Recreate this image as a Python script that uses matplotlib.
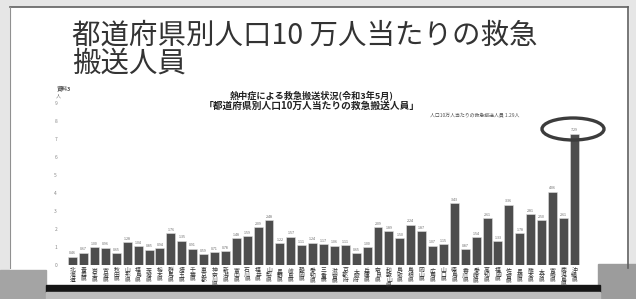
import matplotlib
matplotlib.use("Agg")
import matplotlib.pyplot as plt
from matplotlib.patches import Rectangle, Ellipse

plt.rcParams['font.family'] = ['Noto Sans CJK JP', 'DejaVu Sans']

# 都道府県別 人口10万人当たりの救急搬送人員 (令和3年5月)
prefs = ["北海道", "青森県", "岩手県", "宮城県", "秋田県", "山形県", "福島県",
         "茨城県", "栃木県", "群馬県", "埼玉県", "千葉県", "東京都", "神奈川県",
         "新潟県", "富山県", "石川県", "福井県", "山梨県", "長野県", "岐阜県",
         "静岡県", "愛知県", "三重県", "滋賀県", "京都府", "大阪府", "兵庫県",
         "奈良県", "和歌山県", "鳥取県", "島根県", "岡山県", "広島県", "山口県",
         "徳島県", "香川県", "愛媛県", "高知県", "福岡県", "佐賀県", "長崎県",
         "熊本県", "大分県", "宮崎県", "鹿児島県", "沖縄県"]
values = [0.46, 0.67, 1.00, 0.96, 0.65, 1.28, 1.04,
          0.85, 0.94, 1.76, 1.35, 0.91, 0.59, 0.71,
          0.78, 1.48, 1.59, 2.09, 2.48, 1.22, 1.57,
          1.11, 1.24, 1.17, 1.06, 1.11, 0.65, 1.00,
          2.09, 1.89, 1.50, 2.24, 1.87, 1.07, 1.15,
          3.43, 0.87, 1.54, 2.61, 1.33, 3.36, 1.78,
          2.81, 2.50, 4.06, 2.61, 7.29]
yticks = list(range(0, 10))

W, H = 636, 299
fig = plt.figure(figsize=(W / 100, H / 100), dpi=100)
fig.patch.set_facecolor("white")


def fx(x):
    return x / W


def fy(y):
    return 1 - y / H


def box(x0, y0, x1, y1, color):
    fig.patches.append(Rectangle((fx(x0), fy(y1)), fx(x1 - x0), (y1 - y0) / H,
                                 transform=fig.transFigure, color=color, zorder=-10))


# スライドの枠と下部の影
box(0, 0, 636, 299, "#e6e6e6")
box(10, 7, 628, 285, "white")
box(0, 270, 46, 299, "#a4a4a4")
box(598, 264, 636, 299, "#9c9c9c")
box(46, 285, 600, 292, "#151515")
box(46, 292, 600, 299, "#bdbdbd")
for xs, ys, c, w in [([10, 628], [7, 7], "#606060", 1.2),
                     ([628, 628], [7, 268], "#606060", 1.2),
                     ([10, 10], [7, 268], "#909090", 0.8)]:
    ln = plt.Line2D([fx(v) for v in xs], [fy(v) for v in ys], transform=fig.transFigure,
                    color=c, lw=w, zorder=-9)
    fig.lines.append(ln)

# タイトル
fig.text(fx(72), fy(36), "都道府県別人口10 万人当たりの救急", fontsize=20.5,
         color="#333333", va="center", ha="left")
fig.text(fx(72), fy(64), "搬送人員", fontsize=20.5, color="#333333", va="center", ha="left")

fig.text(fx(57), fy(88), "資料3", fontsize=4, color="#555555", va="center", fontweight="bold")
fig.text(fx(312), fy(95.5), "熱中症による救急搬送状況(令和3年5月)", fontsize=6.6,
         color="#222222", ha="center", va="center", fontweight="bold")
fig.text(fx(312), fy(106), "「都道府県別人口10万人当たりの救急搬送人員」", fontsize=7,
         color="#222222", ha="center", va="center", fontweight="bold")
fig.text(fx(475), fy(115), "人口10万人当たりの救急搬送人員 1.29人", fontsize=3.5,
         color="#555555", ha="center", va="center")
fig.text(fx(58), fy(96), "人", fontsize=3.6, color="#777777", ha="center", va="center")

# グラフ本体
ax = fig.add_axes([fx(64), fy(265), fx(583 - 64), (265 - 103) / H])
x = list(range(len(prefs)))
ax.bar(x, values, width=0.82, color="#4d4d4d", edgecolor="#e0e0e0", linewidth=0.4, zorder=2)
for i, v in enumerate(values):
    ax.text(i, v + 0.08, f"{v:.2f}", fontsize=2.6, color="#666666", ha="center", va="bottom")

ax.set_xlim(-0.8, len(prefs) - 0.2)
ax.set_ylim(0, 9)
ax.set_yticks(yticks)
ax.set_yticklabels([str(t) for t in yticks], fontsize=3.5, color="#888888")
ax.set_xticks(x)
ax.set_xticklabels(["\n".join(p) for p in prefs], fontsize=4.2, color="#333333",
                   linespacing=0.95, va="top")
ax.tick_params(axis="both", length=0, pad=2)
ax.tick_params(axis="y", pad=5)
for s in ax.spines.values():
    s.set_visible(False)
ax.set_facecolor("none")

# 沖縄県を囲む楕円
fig.patches.append(Ellipse((fx(573), fy(129)), fx(62), 22 / H, transform=fig.transFigure,
                           fill=False, edgecolor="#3c3c3c", linewidth=2.4, zorder=5))

fig.savefig("out.png", dpi=100)
